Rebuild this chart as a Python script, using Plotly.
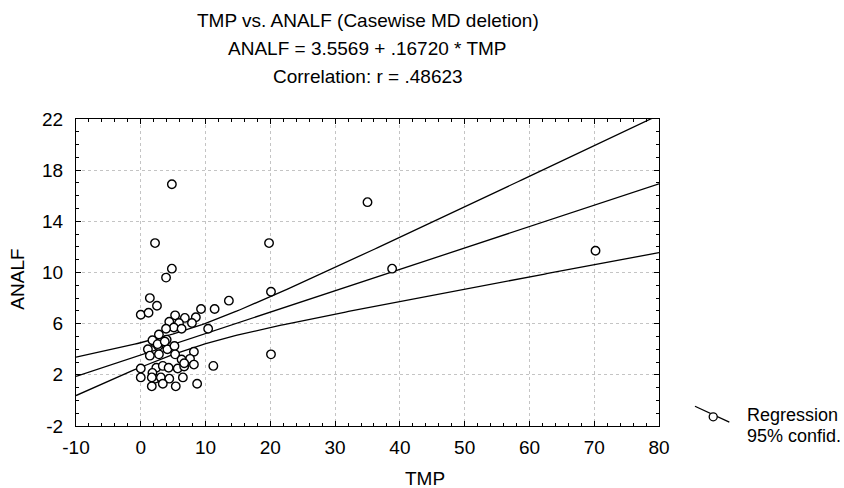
import numpy as np
import plotly.graph_objects as go

# ---- data ----
TMP = [4.8, 2.2, 19.8, 4.8, 3.9, 35.0, 38.8, 70.2, 20.1, 20.1, 11.2,
       1.4, 2.5, 0.0, 1.2, 13.6, 11.4, 9.3, 8.5, 7.9, 6.8, 5.3, 4.4, 5.9,
       5.1, 6.3, 3.9, 10.4, 2.8, 4.0, 2.2, 2.7, 1.1, 1.4, 2.8, 4.1, 5.2,
       5.3, 8.2, 7.6, 8.2, 6.3, 5.7, 6.7, 2.4, 3.4, 4.3, 0.0, 0.0, 1.8,
       2.2, 3.1, 4.4, 6.5, 1.7, 3.4, 5.4, 8.7, 1.8,
       1.7, 2.6, 3.7, 6.7]
ANALF = [16.9, 12.3, 12.3, 10.3, 9.6, 15.5, 10.3, 11.7, 8.5, 3.6, 2.7,
         8.0, 7.4, 6.7, 6.85, 7.8, 7.15, 7.15, 6.5, 6.05, 6.45, 6.65, 6.15, 6.05,
         5.7, 5.6, 5.6, 5.6, 5.15, 4.75, 4.5, 4.25, 4.0, 3.5, 3.6, 4.0, 4.25,
         3.6, 3.8, 3.25, 2.8, 3.2, 2.5, 2.65, 2.55, 2.7, 2.55, 2.5, 1.8, 2.15,
         1.7, 1.8, 1.7, 1.8, 1.1, 1.3, 1.1, 1.3, 4.7,
         1.8, 4.4, 4.6, 2.9]

INTERCEPT = 3.5569
SLOPE = 0.16720
R = 0.48623
T95 = 2.0

X_TICKS = [-10, 0, 10, 20, 30, 40, 50, 60, 70, 80]
Y_TICKS = [-2, 2, 6, 10, 14, 18, 22]

TITLE_LINES = ["TMP vs. ANALF (Casewise MD deletion)",
               "ANALF = 3.5569 + .16720 * TMP",
               "Correlation: r = .48623"]
LEGEND_TEXTS = ["Regression", "95% confid."]

# ---- regression and 95% confidence band ----
x = np.array(TMP)
y = np.array(ANALF)
n = len(x)
xbar = x.mean()
sxx = ((x - xbar) ** 2).sum()
resid = y - (INTERCEPT + SLOPE * x)
s = np.sqrt((resid ** 2).sum() / (n - 2))

xg = np.linspace(X_TICKS[0], X_TICKS[-1], 200)
yg = INTERCEPT + SLOPE * xg
half = T95 * s * np.sqrt(1.0 / n + (xg - xbar) ** 2 / sxx)

FONT = "Liberation Sans, Arial, sans-serif"
FS = 19
fig = go.Figure()
line_style = dict(color="black", width=1.3)
fig.add_trace(go.Scatter(x=xg, y=yg + half, mode="lines", line=line_style, hoverinfo="skip"))
fig.add_trace(go.Scatter(x=xg, y=yg - half, mode="lines", line=line_style, hoverinfo="skip"))
fig.add_trace(go.Scatter(x=xg, y=yg, mode="lines", line=line_style, hoverinfo="skip"))
fig.add_trace(go.Scatter(x=TMP, y=ANALF, mode="markers",
                         marker=dict(symbol="circle", size=8.5, color="white",
                                     line=dict(color="black", width=1.4))))

axis_common = dict(showline=True, linecolor="black", linewidth=1.3, mirror="ticks",
                   ticks="inside", ticklen=5, tickcolor="black", tickwidth=1,
                   showgrid=True, gridcolor="#c4c4c4", griddash="dot", gridwidth=1,
                   zeroline=False, tickfont=dict(family=FONT, size=FS, color="black"))
fig.update_xaxes(range=[X_TICKS[0], X_TICKS[-1]], tickvals=X_TICKS,
                 ticktext=[str(v) for v in X_TICKS], ticklabelstandoff=4,
                 minor=dict(dtick=2, tick0=0, ticks="inside", ticklen=3, tickcolor="black",
                            showgrid=False), **axis_common)
fig.update_yaxes(range=[Y_TICKS[0], Y_TICKS[-1]], tickvals=Y_TICKS,
                 ticktext=[str(v) for v in Y_TICKS], ticklabelstandoff=8,
                 minor=dict(dtick=1, tick0=0, ticks="inside", ticklen=3, tickcolor="black",
                            showgrid=False), **axis_common)

ann = []
for txt, yy in zip(TITLE_LINES, [1.322, 1.231, 1.137]):
    ann.append(dict(text=txt, x=0.5, y=yy, xref="paper", yref="paper", showarrow=False,
                    xanchor="center", yanchor="middle", font=dict(family=FONT, size=FS, color="black")))
ann.append(dict(text="ANALF", x=-0.0995, y=0.48, xref="paper", yref="paper", showarrow=False,
                textangle=-90, xanchor="center", yanchor="middle",
                font=dict(family=FONT, size=FS, color="black")))
ann.append(dict(text="TMP", x=0.5986, y=-0.170, xref="paper", yref="paper", showarrow=False,
                xanchor="center", yanchor="middle", font=dict(family=FONT, size=FS, color="black")))
for txt, yy in zip(LEGEND_TEXTS, [0.0374, -0.034]):
    ann.append(dict(text=txt, x=1.1475, y=yy, xref="paper", yref="paper", showarrow=False,
                    xanchor="left", yanchor="middle", font=dict(family=FONT, size=18, color="black")))

shapes = [
    dict(type="line", xref="paper", yref="paper", x0=1.0617, y0=0.0644, x1=1.1206, y1=0.0124,
         line=dict(color="black", width=1.3)),
    dict(type="circle", xref="paper", yref="paper", x0=1.093 - 0.0069, x1=1.093 + 0.0069,
         y0=0.030 - 0.013, y1=0.030 + 0.013, fillcolor="white", line=dict(color="black", width=1.3)),
]

fig.update_layout(width=844, height=488, margin=dict(l=76, r=185, t=119, b=61.5),
                  paper_bgcolor="white", plot_bgcolor="white", showlegend=False,
                  annotations=ann, shapes=shapes)
fig.write_html("out.html")
